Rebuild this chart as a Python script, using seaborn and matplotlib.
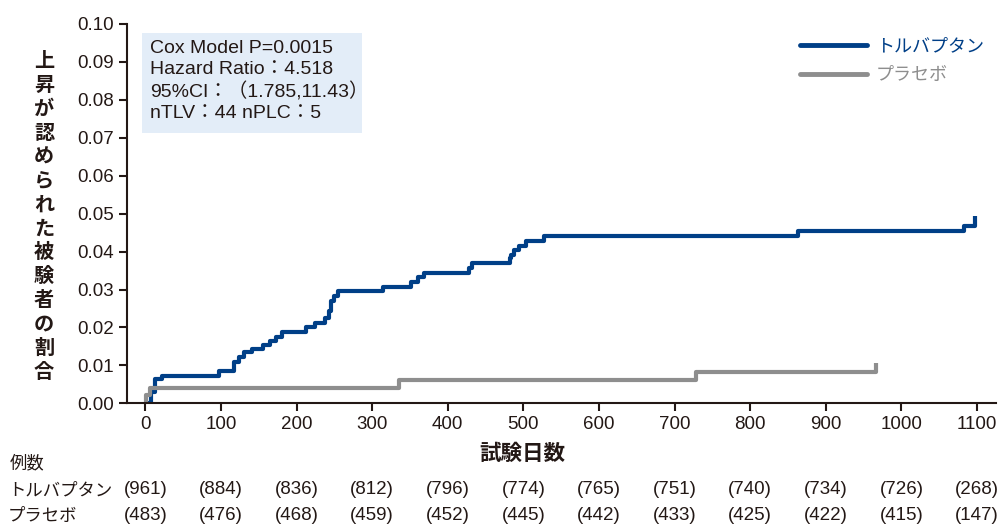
import matplotlib
matplotlib.use("Agg")
import matplotlib.pyplot as plt
import matplotlib.font_manager as fm
from matplotlib.patches import Rectangle
from matplotlib.lines import Line2D
from matplotlib.transforms import blended_transform_factory
import seaborn as sns
import pandas as pd

# ---------------- data ----------------
tlv_days = [0, 8, 13, 22, 97, 117, 124, 131, 141, 155, 165, 173, 181, 213, 225,
            238, 243, 245, 250, 255, 314, 351, 360, 369, 428, 432, 482, 484, 487,
            494, 503, 527, 863, 1083, 1097]
tlv_vals = [0.0, 0.0031, 0.0063, 0.0071, 0.0085, 0.0108, 0.0121, 0.0134, 0.0142,
            0.0155, 0.0164, 0.0176, 0.0188, 0.0200, 0.0213, 0.0224, 0.0243, 0.0270,
            0.0282, 0.0296, 0.0306, 0.0320, 0.0333, 0.0344, 0.0357, 0.0370, 0.0383,
            0.0392, 0.0403, 0.0414, 0.0427, 0.0440, 0.0454, 0.0467, 0.0493]
plc_days = [0, 1, 6, 336, 728, 966]
plc_vals = [0.0, 0.0021, 0.0041, 0.0062, 0.0083, 0.0107]

group_names = ["トルバプタン", "プラセボ"]
x_ticks = [0, 100, 200, 300, 400, 500, 600, 700, 800, 900, 1000, 1100]
y_ticks = [0.00, 0.01, 0.02, 0.03, 0.04, 0.05, 0.06, 0.07, 0.08, 0.09, 0.10]
risk_tlv = [961, 884, 836, 812, 796, 774, 765, 751, 740, 734, 726, 268]
risk_plc = [483, 476, 468, 459, 452, 445, 442, 433, 425, 422, 415, 147]

stats_lines = ["Cox Model P=0.0015",
               "Hazard Ratio：4.518",
               "95%CI：（1.785,11.43）",
               "nTLV：44 nPLC：5"]
y_label = "上昇が認められた被験者の割合"
x_label = "試験日数"
risk_title = "例数"

BLUE = "#003f87"
GRAY = "#8e8e8e"
DARK = "#231815"

# ---------------- style ----------------
sns.set_style("ticks")
plt.rcParams["font.family"] = ["Liberation Sans", "Noto Sans CJK JP", "DejaVu Sans"]
plt.rcParams["axes.linewidth"] = 1.5
plt.rcParams["axes.edgecolor"] = DARK
plt.rcParams["text.color"] = DARK
plt.rcParams["xtick.color"] = DARK
plt.rcParams["ytick.color"] = DARK

avail = {f.name for f in fm.fontManager.ttflist}
narrow = "Liberation Sans Narrow" if "Liberation Sans Narrow" in avail else "Liberation Sans"

df = pd.concat([
    pd.DataFrame({"day": tlv_days, "value": tlv_vals, "group": group_names[0]}),
    pd.DataFrame({"day": plc_days, "value": plc_vals, "group": group_names[1]}),
], ignore_index=True)

W, H = 1002, 525
fig = plt.figure(figsize=(W / 100, H / 100), dpi=100)
ax = fig.add_axes([126.7 / W, 1 - 403.3 / H, (995.7 - 126.7) / W, (403.3 - 24) / H])

sns.lineplot(data=df, x="day", y="value", hue="group",
             palette={group_names[0]: BLUE, group_names[1]: GRAY},
             estimator=None, drawstyle="steps-post", linewidth=3,
             solid_capstyle="butt", ax=ax, legend=False)

ax.set_xlim(-24.7, 1124.7)
ax.set_ylim(0, 0.10)
ax.set_xticks(x_ticks)
ax.set_yticks(y_ticks)
ax.set_yticklabels([f"{v:.2f}" for v in y_ticks])
ax.tick_params(axis="both", labelsize=13.5, length=6, width=1.5, direction="out")
ax.set_xlabel("")
ax.set_ylabel("")
for s in ["top", "right"]:
    ax.spines[s].set_visible(False)

# legend
handles = [Line2D([0], [0], color=BLUE, lw=3.5), Line2D([0], [0], color=GRAY, lw=3.5)]
leg = fig.legend(handles, group_names, loc="upper left",
                 bbox_to_anchor=(784 / W, 1 - 21 / H), frameon=False,
                 handlelength=3.7, handletextpad=0.5, labelspacing=0.6,
                 prop={"family": ["Noto Sans CJK JP"], "size": 13})
for t, c in zip(leg.get_texts(), [BLUE, GRAY]):
    t.set_color(c)

# stats box
fig.patches.append(Rectangle((142 / W, 1 - 133 / H), (362 - 142) / W, (133 - 33) / H,
                             transform=fig.transFigure, facecolor="#e3edf8",
                             edgecolor="none", zorder=0))
fig.text(150 / W, 1 - 40 / H, "\n".join(stats_lines), ha="left", va="top",
         fontsize=14, linespacing=1.3)

# axis labels
fig.text(44 / W, 1 - 216 / H, "\n".join(y_label), ha="center", va="center",
         fontsize=14.5, fontweight="bold", linespacing=1.17,
         family=["Noto Sans CJK JP"])
fig.text(522 / W, 1 - 453 / H, x_label, ha="center", va="center",
         fontsize=15.5, fontweight="bold", family=["Noto Sans CJK JP"])

# numbers at risk
tr = blended_transform_factory(ax.transData, fig.transFigure)
fig.text(10 / W, 1 - 463 / H, risk_title, ha="left", va="center",
         fontsize=12.5, family=["Noto Sans CJK JP"])
fig.text(8 / W, 1 - 490 / H, group_names[0], ha="left", va="center",
         fontsize=12.5, family=["Noto Sans CJK JP"])
fig.text(8 / W, 1 - 516 / H, group_names[1], ha="left", va="center",
         fontsize=12.5, family=["Noto Sans CJK JP"])
for xt, a, b in zip(x_ticks, risk_tlv, risk_plc):
    ax.text(xt, 1 - 490 / H, f"({a})", transform=tr, ha="center", va="center",
            fontsize=13.5, family=[narrow], clip_on=False)
    ax.text(xt, 1 - 516 / H, f"({b})", transform=tr, ha="center", va="center",
            fontsize=13.5, family=[narrow], clip_on=False)

fig.savefig("out.png", dpi=100)
